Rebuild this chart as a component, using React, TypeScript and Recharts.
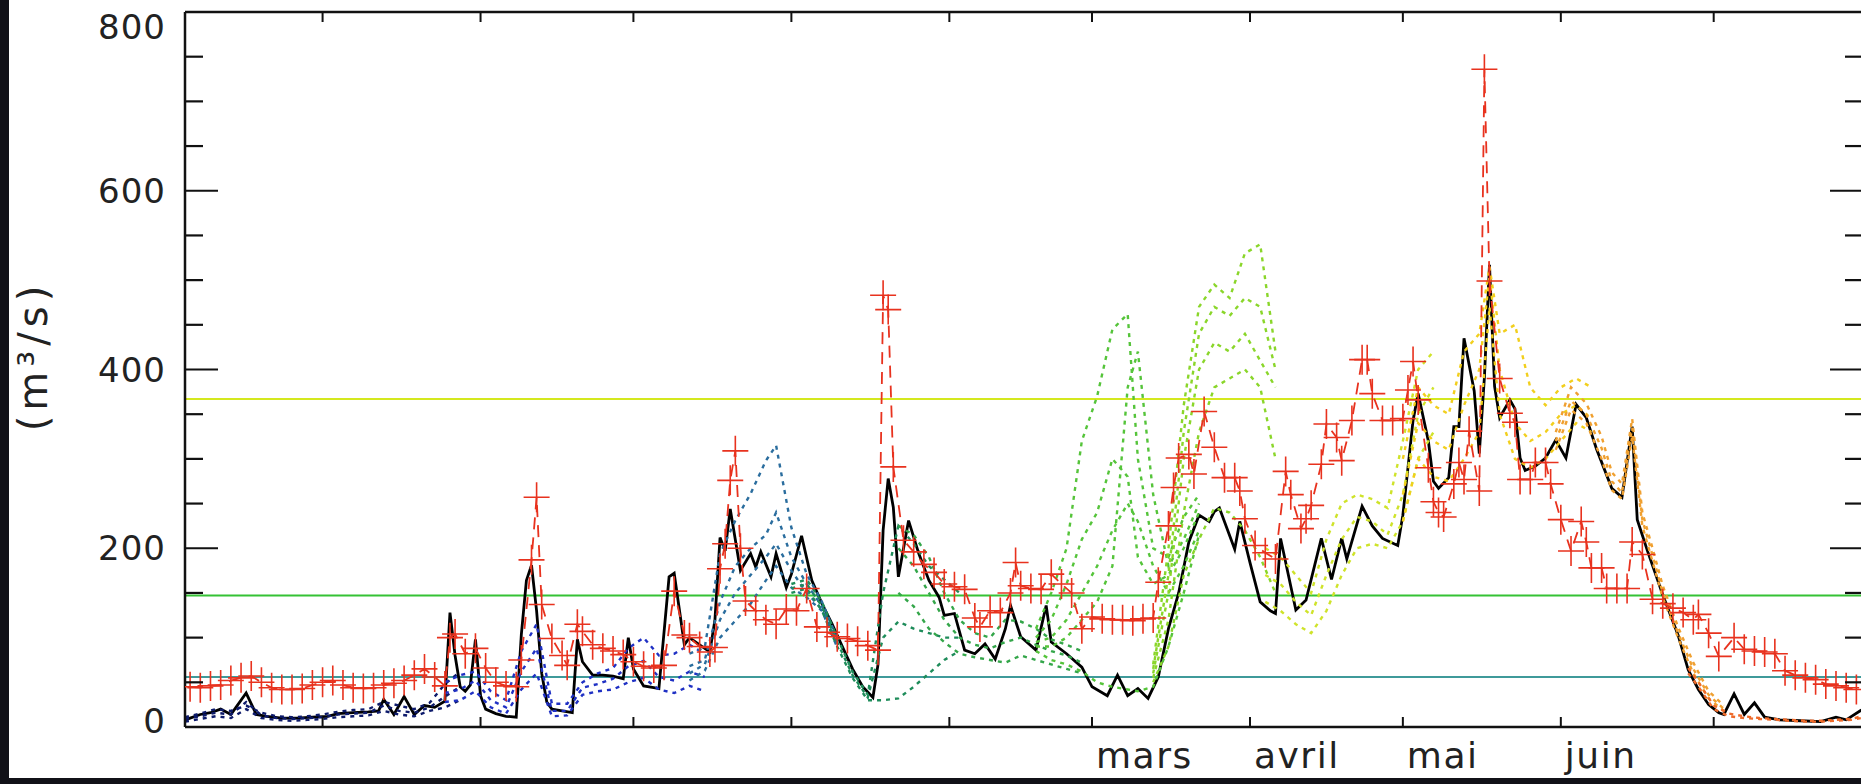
import React from 'react';
import { ComposedChart, Line, XAxis, YAxis, ReferenceLine } from 'recharts';

// days counted from 1 October
const monthTicks = [0, 31, 61, 92, 123, 151, 182, 212, 243, 273];
const monthNames = ['', '', '', '', '', 'mars', 'avril', 'mai', 'juin', ''];
const qTicks = [0, 50, 100, 150, 200, 250, 300, 350, 400, 450, 500, 550, 600, 650, 700, 750, 800];

const thresholdQ = [367, 147, 56];
const thresholdColors = ['#d4e81e', '#35c235', '#3f9a9a'];

// observed discharge (red crosses)
const obsDays = [
  -26, -24, -22, -20, -18, -16, -14, -12, -10, -8,
  -6, -4, -2, 0, 2, 4, 6, 8, 10, 12,
  14, 16, 18, 20, 22, 24, 25, 26, 28, 30,
  32, 34, 36, 38, 39, 41, 42, 43, 45, 47,
  48, 50, 51, 53, 55, 57, 59, 61, 63, 65,
  67, 69, 71, 72, 74, 76, 77, 78, 79, 80,
  81, 82, 83, 85, 87, 89, 91, 93, 95, 97,
  99, 101, 103, 105, 107, 109, 110, 111, 112, 114,
  116, 118, 120, 122, 124, 126, 128, 129, 131, 133,
  135, 136, 137, 139, 141, 143, 145, 147, 149, 151,
  153, 155, 157, 159, 161, 163, 164, 166, 167, 168,
  170, 171, 173, 175, 177, 179, 180, 181, 183, 185,
  187, 189, 190, 192, 193, 194, 196, 197, 199, 200,
  202, 204, 205, 206, 208, 210, 212, 213, 214, 215,
  217, 218, 219, 220, 222, 223, 224, 225, 227, 228,
  229, 231, 233, 234, 235, 237, 238, 240, 241, 243,
  245, 247, 248, 249, 251, 252, 254, 256, 257, 259,
  261, 263, 265, 267, 269, 270, 272, 274, 277, 279,
  281, 283, 285, 287, 289, 291, 293, 295, 297, 299,
  301,
];
const obsQ = [
  45, 44, 46, 47, 52, 55, 57, 50, 44, 42,
  42, 43, 47, 50, 52, 47, 44, 43, 44, 47,
  49, 52, 58, 65, 56, 46, 100, 104, 82, 88,
  66, 50, 46, 45, 75, 187, 257, 137, 99, 80,
  69, 115, 107, 92, 88, 85, 81, 73, 68, 66,
  69, 152, 103, 100, 90, 84, 89, 177, 205, 276,
  309, 200, 141, 130, 120, 115, 132, 130, 155, 112,
  106, 101, 99, 96, 91, 86, 483, 467, 291, 209,
  196, 182, 173, 160, 157, 154, 122, 112, 130, 128,
  150, 184, 158, 155, 154, 171, 160, 150, 110, 123,
  121, 120, 120, 119, 121, 122, 162, 225, 268, 301,
  305, 283, 353, 313, 279, 279, 264, 233, 203, 195,
  188, 286, 260, 222, 233, 248, 294, 339, 324, 298,
  343, 411, 411, 373, 343, 343, 345, 377, 409, 366,
  290, 252, 240, 235, 272, 296, 277, 331, 264, 736,
  499, 390, 351, 341, 277, 277, 296, 296, 272, 232,
  197, 230, 207, 178, 178, 155, 155, 155, 207, 193,
  143, 138, 133, 128, 120, 126, 105, 79, 100, 87,
  85, 84, 82, 63, 58, 55, 53, 48, 46, 44,
  42,
];

// simulated discharge (black)
const simDays = [
  -27, -26, -24, -22, -20, -18, -17, -15, -13, -11,
  -8, -5, -2, 1, 3, 6, 9, 11, 12, 14,
  16, 18, 20, 22, 24, 25, 26, 27, 28, 29,
  30, 31, 32, 34, 36, 38, 39, 40, 41, 42,
  43, 44, 45, 47, 49, 50, 51, 53, 55, 57,
  59, 60, 61, 63, 65, 66, 68, 69, 71, 72,
  74, 76, 77, 78, 79, 80, 82, 84, 85, 86,
  88, 89, 91, 92, 94, 96, 98, 100, 102, 104,
  106, 108, 109, 110, 111, 112, 113, 115, 117, 119,
  121, 122, 124, 126, 128, 130, 132, 134, 135, 137,
  140, 142, 143, 146, 149, 151, 154, 156, 158, 160,
  162, 164, 166, 168, 170, 172, 174, 175, 176, 179,
  180, 182, 184, 186, 187, 188, 191, 193, 196, 198,
  200, 201, 204, 206, 208, 211, 212, 214, 215, 217,
  218, 219, 221, 222, 223, 224, 226, 227, 228, 229,
  230, 231, 233, 234, 235, 236, 238, 240, 242, 244,
  246, 248, 250, 253, 255, 257, 258, 260, 263, 266,
  268, 270, 272, 274, 275, 277, 279, 281, 283, 286,
  290, 294, 297, 299, 302,
];
const simQ = [
  8, 10, 14, 16, 20, 14, 22, 38, 14, 12,
  10, 10, 11, 12, 15, 16, 17, 18, 31, 14,
  34, 14, 24, 22, 29, 128, 80, 45, 40, 47,
  98, 35, 20, 15, 12, 11, 103, 164, 181, 130,
  60, 28, 20, 18, 16, 98, 73, 58, 58, 57,
  54, 100, 65, 46, 44, 43, 168, 172, 92, 100,
  92, 84, 120, 212, 197, 244, 175, 194, 179, 196,
  168, 194, 156, 171, 214, 164, 138, 115, 90, 65,
  45, 33, 70, 220, 278, 246, 168, 231, 194, 164,
  145, 125, 127, 86, 82, 93, 76, 110, 136, 101,
  86, 136, 95, 82, 67, 45, 35, 58, 35, 43,
  32, 56, 110, 150, 207, 237, 230, 241, 245, 199,
  230, 184, 140, 130, 127, 211, 131, 142, 211, 165,
  211, 188, 247, 225, 211, 203, 237, 343, 373, 320,
  275, 267, 279, 336, 336, 435, 376, 306, 391, 517,
  381, 346, 366, 356, 301, 287, 292, 301, 321, 301,
  361, 346, 311, 267, 257, 336, 232, 197, 148, 103,
  64, 42, 25, 16, 14, 37, 14, 27, 11, 8,
  7, 6, 11, 8, 19,
];

// ensemble forecasts, one block per issue month (dotted)
const sepDays = [-27, -24, -21, -18, -15, -12, -9, -6, -3, 0, 3, 6, 9, 12, 15, 18, 21, 24, 27];
const sepRuns = [
  [6, 9, 12, 10, 20, 10, 8, 7, 8, 9, 11, 12, 13, 18, 14, 12, 18, 22, 30],
  [9, 12, 16, 14, 28, 13, 10, 9, 10, 11, 14, 15, 16, 24, 18, 16, 22, 34, 45],
  [11, 15, 20, 18, 24, 16, 12, 11, 12, 14, 17, 19, 20, 28, 24, 20, 27, 48, 62],
];
const octDays = [24, 27, 30, 33, 36, 39, 42, 45, 48, 51, 54, 57, 60, 63, 66, 69, 72, 75];
const octRuns = [
  [28, 30, 40, 22, 15, 42, 60, 12, 13, 36, 40, 42, 50, 55, 42, 38, 46, 40],
  [38, 42, 52, 30, 22, 62, 88, 18, 18, 44, 48, 54, 68, 74, 56, 52, 62, 56],
  [50, 58, 62, 40, 30, 85, 115, 26, 26, 50, 60, 66, 88, 100, 80, 82, 92, 82],
];
const decDays = [72, 75, 78, 81, 84, 87, 89, 92, 95, 98, 101];
const decRuns = [
  [52, 63, 100, 119, 138, 164, 180, 156, 145, 130, 89],
  [60, 70, 120, 150, 170, 190, 205, 175, 150, 132, 92],
  [68, 75, 140, 180, 200, 215, 240, 190, 160, 135, 95],
  [82, 89, 194, 231, 261, 298, 315, 223, 171, 140, 99],
];
const janDays = [92, 95, 98, 101, 104, 107, 110, 113, 116, 119, 122, 125];
const janRuns = [
  [150, 155, 130, 90, 55, 30, 30, 32, 45, 60, 75, 85],
  [155, 160, 135, 95, 58, 33, 100, 118, 110, 105, 100, 100],
  [160, 165, 140, 100, 62, 36, 150, 225, 205, 180, 165, 150],
];
const febDays = [113, 116, 119, 122, 125, 128, 131, 134, 137, 140, 143, 146, 149];
const febRuns = [
  [150, 135, 110, 95, 82, 78, 75, 72, 80, 75, 70, 65, 60],
  [200, 180, 150, 120, 100, 92, 88, 95, 100, 92, 85, 80, 72],
  [225, 215, 190, 150, 120, 105, 100, 120, 118, 110, 98, 92, 85],
];
const marDays = [140, 143, 146, 149, 152, 155, 158, 160, 163, 166, 169, 172];
const marRuns = [
  [85, 75, 70, 62, 50, 45, 42, 40, 45, 90, 150, 215],
  [95, 100, 120, 150, 180, 220, 250, 230, 180, 150, 180, 220],
  [100, 120, 160, 210, 240, 300, 280, 190, 160, 170, 200, 240],
  [90, 90, 100, 120, 140, 180, 380, 420, 260, 180, 210, 250],
  [110, 150, 200, 320, 370, 445, 462, 300, 200, 190, 235, 260],
];
const aprDays = [163, 166, 169, 172, 175, 178, 181, 184, 187];
const aprRuns = [
  [50, 90, 170, 210, 245, 240, 220, 190, 150],
  [55, 120, 240, 330, 380, 390, 400, 380, 300],
  [60, 150, 300, 400, 430, 420, 440, 410, 380],
  [65, 170, 330, 440, 470, 460, 480, 470, 400],
  [70, 200, 360, 470, 495, 480, 530, 540, 420],
];
const mayDays = [185, 188, 191, 194, 197, 200, 203, 206, 209, 212, 215, 218];
const mayRuns = [
  [140, 130, 115, 105, 130, 170, 200, 205, 200, 230, 300, 330],
  [170, 160, 140, 125, 170, 210, 235, 230, 215, 260, 350, 380],
  [200, 190, 170, 150, 210, 250, 260, 255, 245, 320, 400, 420],
];
const junDays = [212, 215, 218, 221, 224, 227, 229, 231, 234, 237, 240, 243, 246, 249];
const junRuns = [
  [230, 300, 280, 275, 300, 330, 470, 350, 300, 290, 300, 320, 340, 330],
  [260, 340, 320, 310, 360, 400, 505, 400, 340, 320, 330, 350, 360, 345],
  [300, 380, 360, 350, 420, 440, 515, 440, 450, 380, 360, 380, 390, 380],
];
const julDays = [242, 245, 248, 251, 253, 255, 257, 259, 261, 263, 266, 269, 272, 275];
const julRuns = [
  [310, 355, 340, 300, 265, 255, 325, 225, 185, 145, 100, 60, 32, 18],
  [320, 365, 350, 312, 275, 262, 335, 232, 192, 150, 105, 65, 36, 20],
  [330, 380, 362, 325, 285, 272, 345, 240, 200, 158, 112, 72, 40, 24],
];
const augDays = [268, 270, 273, 276, 279, 282, 285, 288, 291, 294, 297, 300, 302];
const augRuns = [
  [60, 45, 20, 12, 10, 9, 8, 7, 6, 6, 7, 8, 10],
  [66, 50, 24, 15, 12, 10, 9, 8, 7, 7, 8, 9, 12],
];

const ensembles = [
  { color: '#0d1a6b', days: sepDays, runs: sepRuns },
  { color: '#1f30c4', days: octDays, runs: octRuns },
  { color: '#2a6d9e', days: decDays, runs: decRuns },
  { color: '#1e8c5a', days: janDays, runs: janRuns },
  { color: '#34a64a', days: febDays, runs: febRuns },
  { color: '#55c43a', days: marDays, runs: marRuns },
  { color: '#8ad62a', days: aprDays, runs: aprRuns },
  { color: '#cfe32a', days: mayDays, runs: mayRuns },
  { color: '#f2cf1d', days: junDays, runs: junRuns },
  { color: '#f0a030', days: julDays, runs: julRuns },
  { color: '#ee6a2a', days: augDays, runs: augRuns },
];

const toPoints = (days: number[], q: number[]) => days.map((d, i) => ({ d, q: q[i] }));
const obs = toPoints(obsDays, obsQ);
const sim = toPoints(simDays, simQ);

const FONT = 'DejaVu Sans';

const LeftTick = (props: any) => {
  const { x, y, payload } = props;
  const v = payload.value;
  const major = v % 200 === 0;
  const dy = v === 800 ? 15 : v === 0 ? -6 : 0;
  return (
    <g>
      <line x1={x} x2={x + (major ? 33 : 18)} y1={y} y2={y} stroke="#111" strokeWidth={2.2} />
      {major && (
        <text x={x - 19} y={y + dy} dy="0.36em" textAnchor="end" fontSize={34} fontFamily={FONT} fill="#222" letterSpacing={1}>
          {v}
        </text>
      )}
    </g>
  );
};

const RightTick = (props: any) => {
  const { x, y, payload } = props;
  const major = payload.value % 200 === 0;
  return <line x1={x} x2={x - (major ? 33 : 18)} y1={y} y2={y} stroke="#111" strokeWidth={2.2} />;
};

const BottomTick = (props: any) => {
  const { x, y, payload } = props;
  const name = monthNames[monthTicks.indexOf(payload.value)];
  return (
    <g>
      <line x1={x} x2={x} y1={y} y2={y - 10} stroke="#111" strokeWidth={2} />
      {name && (
        <text x={x + 4} y={y + 41} fontSize={36} fontFamily={FONT} fill="#222" letterSpacing={1.5}>
          {name}
        </text>
      )}
    </g>
  );
};

const TopTick = (props: any) => {
  const { x, y } = props;
  return <line x1={x} x2={x} y1={y} y2={y + 10} stroke="#111" strokeWidth={2} />;
};

const Cross = (p: any) => {
  const { cx, cy, index } = p;
  if (cx == null || cy == null) return <g key={index} />;
  return (
    <path
      key={index}
      d={`M${cx - 13},${cy}H${cx + 13}M${cx},${cy - 15}V${cy + 15}`}
      stroke="#e8321e"
      strokeWidth={1.6}
      fill="none"
    />
  );
};

export default function App() {
  return (
    <div style={{ position: 'absolute', left: 0, top: 0, width: 1861, height: 784, overflow: 'hidden', background: '#fff' }}>
      <ComposedChart width={1880} height={784} margin={{ top: 0, right: 0, bottom: 0, left: 0 }}>
        <XAxis
          xAxisId="b"
          dataKey="d"
          type="number"
          domain={[-27, 302.3]}
          allowDataOverflow
          ticks={monthTicks}
          interval={0}
          height={57}
          tickSize={0}
          tickMargin={0}
          tickLine={false}
          tick={<BottomTick />}
          axisLine={{ stroke: '#111', strokeWidth: 2.5 }}
        />
        <XAxis
          xAxisId="t"
          orientation="top"
          dataKey="d"
          type="number"
          domain={[-27, 302.3]}
          allowDataOverflow
          ticks={monthTicks}
          interval={0}
          height={12}
          tickSize={0}
          tickMargin={0}
          tickLine={false}
          tick={<TopTick />}
          axisLine={{ stroke: '#111', strokeWidth: 2.5 }}
        />
        <YAxis
          yAxisId="l"
          type="number"
          domain={[0, 800]}
          allowDataOverflow
          ticks={qTicks}
          interval={0}
          width={185}
          tickSize={0}
          tickMargin={0}
          tickLine={false}
          tick={<LeftTick />}
          axisLine={{ stroke: '#111', strokeWidth: 2.5 }}
        />
        <YAxis
          yAxisId="r"
          orientation="right"
          type="number"
          domain={[0, 800]}
          allowDataOverflow
          ticks={qTicks}
          interval={0}
          width={17}
          tickSize={0}
          tickMargin={0}
          tickLine={false}
          tick={<RightTick />}
          axisLine={{ stroke: '#111', strokeWidth: 2.5 }}
        />
        {thresholdQ.map((q, i) => (
          <ReferenceLine key={'thr' + i} xAxisId="b" yAxisId="l" y={q} stroke={thresholdColors[i]} strokeWidth={2} />
        ))}
        <Line
          xAxisId="b"
          yAxisId="l"
          data={sim}
          dataKey="q"
          type="linear"
          stroke="#000"
          strokeWidth={2.8}
          dot={false}
          activeDot={false}
          isAnimationActive={false}
        />
        {ensembles.flatMap((blk, bi) =>
          blk.runs.map((run, ri) => (
            <Line
              key={`ens${bi}-${ri}`}
              xAxisId="b"
              yAxisId="l"
              data={toPoints(blk.days, run)}
              dataKey="q"
              type="linear"
              stroke={blk.color}
              strokeWidth={2.4}
              strokeDasharray="4 5"
              dot={false}
              activeDot={false}
              isAnimationActive={false}
            />
          ))
        )}
        <Line
          xAxisId="b"
          yAxisId="l"
          data={obs}
          dataKey="q"
          type="linear"
          stroke="#e8321e"
          strokeWidth={1.8}
          strokeDasharray="12 8"
          dot={(p: any) => <Cross key={p.index} {...p} />}
          activeDot={false}
          isAnimationActive={false}
        />
      </ComposedChart>
      <div
        style={{
          position: 'absolute',
          left: 33,
          top: 356,
          transform: 'translate(-50%, -50%) rotate(-90deg)',
          fontFamily: FONT,
          fontSize: 40,
          letterSpacing: 5,
          color: '#222',
          whiteSpace: 'nowrap',
        }}
      >
        (m³/s)
      </div>
      <div style={{ position: 'absolute', left: 0, top: 0, width: 9, height: 784, background: '#111118' }} />
      <div style={{ position: 'absolute', left: 0, top: 778, width: 1861, height: 6, background: '#111118' }} />
    </div>
  );
}
